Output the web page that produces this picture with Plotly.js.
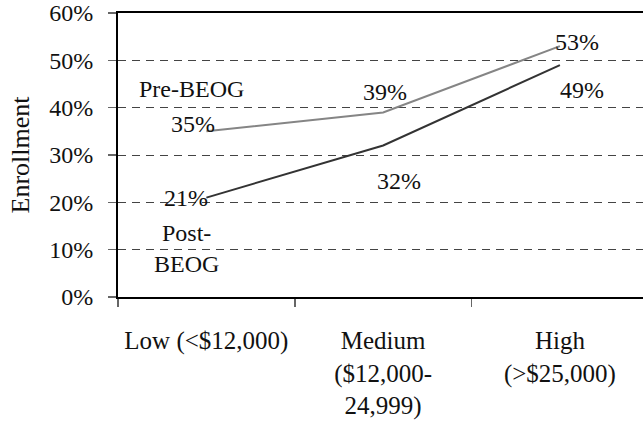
<!DOCTYPE html>
<html>
<head>
<meta charset="utf-8">
<script src="https://cdn.plot.ly/plotly-3.0.1.min.js"></script>
<style>html,body{margin:0;padding:0;background:#fff;}#chart{width:643px;height:423px;}</style>
</head>
<body>
<div id="chart"></div>
<script>
// ---- data ----
const categories = ["Low (<$12,000)", "Medium<br>($12,000-<br>24,999)", "High<br>(>$25,000)"];
const preBEOG = [35, 39, 53];
const postBEOG = [21, 32, 49];
const yTickVals = [0, 10, 20, 30, 40, 50, 60];
const yTickText = ["0%", "10%", "20%", "30%", "40%", "50%", "60%"];
const seriesNames = ["Pre-BEOG", "Post-<br>BEOG"];

// ---- label placement (pixel shifts relative to each point) ----
const preShift = [[-13, 7], [2, 20], [17, 4]];
const postShift = [[-20, 0], [16, -35], [22, -25]];
const FAMILY = "'Times New Roman', 'Liberation Serif', 'DejaVu Serif', serif";
const font = (s) => ({family: FAMILY, size: s, color: "#111"});

const traces = [
  {x: categories, y: preBEOG, type: "scatter", mode: "lines", name: "Pre-BEOG",
   line: {color: "#858585", width: 2}, hoverinfo: "skip", cliponaxis: false},
  {x: categories, y: postBEOG, type: "scatter", mode: "lines", name: "Post-BEOG",
   line: {color: "#333333", width: 2}, hoverinfo: "skip", cliponaxis: false}
];

const annotations = [];
function addLabels(vals, shifts) {
  vals.forEach((v, i) => {
    annotations.push({x: categories[i], y: v, xref: "x", yref: "y", text: v + "%",
      showarrow: false, xshift: shifts[i][0], yshift: shifts[i][1], font: font(24),
      xanchor: "center", yanchor: "middle"});
  });
}
addLabels(preBEOG, preShift);
addLabels(postBEOG, postShift);
annotations.push({x: categories[0], y: preBEOG[0], xref: "x", yref: "y", text: seriesNames[0],
  showarrow: false, xshift: -15, yshift: 42, font: font(24), xanchor: "center", yanchor: "middle"});
annotations.push({x: categories[0], y: postBEOG[0], xref: "x", yref: "y", text: seriesNames[1],
  showarrow: false, xshift: -20, yshift: -51, font: font(24), xanchor: "center", yanchor: "middle"});

const layout = {
  width: 643, height: 423,
  margin: {l: 118, r: 0, t: 13, b: 126},
  paper_bgcolor: "#fff", plot_bgcolor: "#fff",
  showlegend: false,
  font: font(24),
  xaxis: {
    type: "category", range: [-0.5, 2.47], tickson: "boundaries",
    showline: true, linecolor: "#000", linewidth: 2, mirror: true,
    ticks: "outside", ticklen: 8, tickcolor: "#666", tickwidth: 1.5,
    showgrid: false, zeroline: false, ticklabelstandoff: 20,
    tickfont: font(25), fixedrange: true
  },
  yaxis: {
    range: [0, 60], tickvals: yTickVals, ticktext: yTickText,
    showline: true, linecolor: "#000", linewidth: 2,
    ticks: "outside", ticklen: 8, tickcolor: "#666", tickwidth: 1.5,
    showgrid: true, gridcolor: "#444", gridwidth: 1, griddash: "8px,6px",
    zeroline: false, ticklabelstandoff: 10, tickfont: font(24),
    title: {text: "Enrollment", font: font(26), standoff: 12},
    fixedrange: true
  },
  annotations: annotations
};

Plotly.newPlot("chart", traces, layout, {displayModeBar: false, staticPlot: true});
</script>
</body>
</html>
